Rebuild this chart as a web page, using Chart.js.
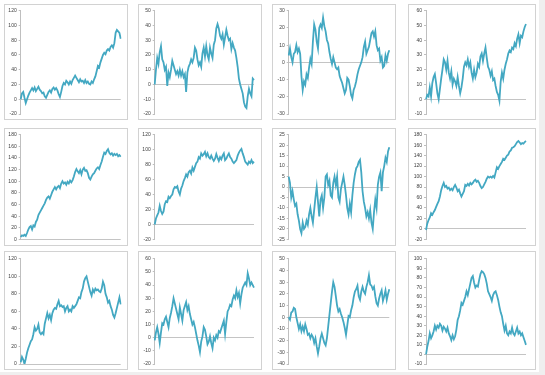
<!DOCTYPE html>
<html><head><meta charset="utf-8">
<script src="https://cdn.jsdelivr.net/npm/chart.js@4/dist/chart.umd.min.js"></script>
<style>
html,body{margin:0;padding:0;}
body{width:545px;height:375px;background:#efefef;position:relative;overflow:hidden;}
#sheet{position:absolute;left:0;top:0;width:539px;height:372px;background:#fff;}
.panel{position:absolute;box-sizing:border-box;border:1px solid #d2d2d2;background:#fff;}
.panel canvas{position:absolute;left:0;top:0;}
</style></head><body><div id="sheet"></div>
<script>
// step index categories (x axis, unlabeled)
const steps = Array.from({length: 80}, (_, i) => i + 1);

// series values (one random-walk per panel)
const s1 = [0,8,10,2,-5,0,5,9,12,15,12,16,11,14,17,13,11,8,9,4,2,6,10,12,9,14,16,13,15,12,7,3,10,18,22,20,25,23,20,24,21,26,29,32,29,26,23,27,24,25,22,26,22,24,21,20,24,22,27,31,38,45,43,50,55,60,63,61,66,68,66,71,73,70,76,90,94,92,90,82];
const s2 = [0,10,18,14,22,26,17,15,10,12,-1,8,5,10,16,13,10,7,9,6,10,6,9,5,7,-5,8,12,14,17,15,18,25,23,17,13,15,12,21,25,19,26,20,17,25,21,18,27,30,38,41,38,33,31,34,27,32,37,33,30,31,24,28,25,23,18,12,4,0,-3,-6,-12,-15,-16,-8,-3,-6,-8,4,3];
const s3 = [4,8,3,0,5,6,10,6,8,5,-8,-16,-11,-13,-7,-9,-3,2,-1,12,22,19,12,8,20,22,20,26,21,18,13,11,6,2,-1,3,0,-3,-4,-3,-8,-10,-12,-15,-18,-16,-9,-10,-14,-19,-21,-16,-14,-11,-7,-4,-2,0,3,9,12,5,7,9,13,17,18,15,18,10,7,8,1,3,-3,-2,4,1,5,7];
const s4 = [0,3,2,8,2,11,15,17,11,4,0,7,14,20,27,25,20,26,18,14,19,10,14,12,9,15,9,4,8,14,22,25,23,27,22,25,18,14,20,15,18,24,22,29,31,26,31,35,28,22,20,16,19,13,14,9,5,3,-1,12,18,14,20,24,27,31,33,32,35,34,38,36,41,44,38,43,42,46,49,51];
const s5 = [4,7,6,8,6,11,17,21,23,17,24,22,30,34,42,46,50,54,58,62,68,72,74,70,76,82,86,90,86,90,92,88,96,100,96,98,94,99,96,101,98,102,108,116,121,117,114,119,112,120,123,118,119,114,106,103,108,112,114,118,122,124,121,128,134,142,149,147,152,155,149,146,148,144,147,145,147,143,145,142];
const s6 = [0,8,12,16,25,18,14,17,27,31,30,37,35,38,40,47,50,49,51,44,40,48,52,58,62,67,64,70,72,68,76,72,77,82,84,90,88,95,92,94,97,91,95,90,88,92,88,85,88,94,89,85,90,87,92,95,86,88,92,95,90,88,84,82,84,86,92,96,99,101,95,90,84,82,80,84,82,86,82,84];
const s7 = [5,2,-5,-2,-6,-9,-8,-13,-16,-20,-22,-17,-20,-19,-16,-18,-13,-10,-14,-17,-11,-5,0,-7,-14,-6,-4,-10,-5,5,6,1,3,-4,-5,2,5,1,5,-5,-7,-1,2,5,1,-4,-10,-13,-8,-12,-4,2,6,9,10,12,13,7,-2,-7,-10,-14,-12,-15,-11,-17,-20,-12,-6,-10,1,5,7,-2,7,10,14,12,17,19];
const s8 = [-2,10,17,22,30,27,32,36,42,48,53,62,74,82,88,80,82,77,79,74,77,74,80,84,79,72,75,68,62,67,72,84,82,86,83,88,85,88,92,94,90,92,88,82,78,80,85,90,96,100,98,100,98,101,98,108,118,115,120,124,128,134,132,136,140,142,148,150,155,156,158,162,166,168,165,162,164,163,166,168];
const s9 = [2,8,5,0,6,13,18,22,26,28,34,42,38,40,45,36,34,36,34,46,52,58,52,56,50,58,62,64,63,68,72,66,67,65,66,60,64,66,60,62,60,66,64,66,68,72,76,75,82,86,94,98,100,94,88,82,78,85,82,86,84,85,83,82,86,94,90,80,76,70,72,66,62,56,53,58,64,70,76,68];
const s10 = [-2,4,8,3,-4,4,11,10,14,16,12,8,15,19,24,30,26,22,18,14,23,18,13,21,24,27,21,24,18,14,10,12,8,3,-2,-6,-11,-3,1,8,6,1,-5,-3,1,-4,-8,0,-2,2,0,5,4,7,10,13,3,12,20,22,25,24,29,32,30,36,31,34,26,33,38,40,42,40,49,45,40,42,40,38];
const s11 = [0,-2,4,5,8,7,0,-5,-10,-6,-12,-8,-12,-6,-10,-15,-14,-18,-15,-17,-22,-18,-25,-31,-25,-18,-14,-18,-22,-24,-18,-8,2,12,22,30,26,18,10,5,7,3,0,-4,-9,-15,-7,1,0,6,10,17,22,24,27,18,15,22,26,22,20,26,30,36,28,27,24,26,18,12,10,16,20,23,14,18,23,15,20,24];
const s12 = [0,8,14,22,17,20,24,30,26,30,28,32,30,25,29,27,24,28,22,19,15,20,16,19,26,36,40,46,54,52,56,60,66,62,68,74,80,82,75,70,72,71,78,84,87,86,84,80,74,66,63,60,56,62,65,66,62,57,50,44,40,32,25,30,22,20,24,22,28,22,20,24,28,22,24,20,22,18,14,10];

// y tick labels per panel
const t1 = [-20,0,20,40,60,80,100,120];
const t2 = [-20,-10,0,10,20,30,40,50];
const t3 = [-30,-20,-10,0,10,20,30];
const t4 = [-10,0,10,20,30,40,50,60];
const t5 = [0,20,40,60,80,100,120,140,160,180];
const t6 = [-20,0,20,40,60,80,100,120];
const t7 = [-25,-20,-15,-10,-5,0,5,10,15,20,25];
const t8 = [-20,0,20,40,60,80,100,120,140,160,180];
const t9 = [0,20,40,60,80,100,120];
const t10 = [-20,-10,0,10,20,30,40,50,60];
const t11 = [-40,-30,-20,-10,0,10,20,30,40,50];
const t12 = [-10,0,10,20,30,40,50,60,70,80,90,100];

const series = [s1,s2,s3,s4,s5,s6,s7,s8,s9,s10,s11,s12];
const tickSets = [t1,t2,t3,t4,t5,t6,t7,t8,t9,t10,t11,t12];

// layout (panel boxes and plot-area targets)
const colX = [4, 138, 272, 408], colW = [124, 124, 124, 128];
const areaL = [20.7, 154.7, 288.7, 426], areaR = [120.7, 254, 389.3, 526];
const rowY = [4, 128, 251], rowH = [116, 118, 119];
const areaT = [10.7, 134.7, 258.8], areaB = [114.7, 239.4, 364];

const body = document.body;
series.forEach((data, i) => {
  const c = i % 4, r = Math.floor(i / 4);
  const t = tickSets[i];
  const div = document.createElement('div');
  div.className = 'panel';
  div.style.left = colX[c] + 'px';
  div.style.top = rowY[r] + 'px';
  div.style.width = colW[c] + 'px';
  div.style.height = rowH[r] + 'px';
  const cv = document.createElement('canvas');
  const cw = colW[c] - 2, ch = rowH[r] - 2;
  cv.width = cw; cv.height = ch;
  cv.style.width = cw + 'px'; cv.style.height = ch + 'px';
  div.appendChild(cv);
  body.appendChild(div);
  const axisW = areaL[c] - (colX[c] + 1);
  const padR = (colX[c] + colW[c] - 1) - areaR[c];
  const padT = areaT[r] - (rowY[r] + 1);
  const padB = (rowY[r] + rowH[r] - 1) - areaB[r];
  new Chart(cv, {
    type: 'line',
    data: { labels: steps, datasets: [{ data: data, borderColor: '#43a8c2', borderWidth: 1.8, pointRadius: 0, tension: 0, fill: false }] },
    options: {
      responsive: false, animation: false, devicePixelRatio: 1,
      layout: { padding: { left: 0, right: padR, top: padT, bottom: padB } },
      plugins: { legend: { display: false }, tooltip: { enabled: false } },
      scales: {
        x: { display: false },
        y: {
          min: t[0], max: t[t.length - 1],
          afterBuildTicks: s => { s.ticks = t.map(v => ({ value: v })); },
          afterFit: s => { s.width = axisW; },
          border: { display: true, color: '#bfbfbf', width: 1 },
          grid: {
            color: ctx => (ctx.tick && ctx.tick.value === 0) ? '#c4c4c4' : 'rgba(0,0,0,0)',
            lineWidth: 1, drawTicks: true, tickLength: 2, tickColor: '#bfbfbf'
          },
          ticks: { font: { size: 5, family: 'Liberation Sans' }, color: '#404040', padding: 2, autoSkip: false }
        }
      }
    }
  });
});
</script>
</body></html>
